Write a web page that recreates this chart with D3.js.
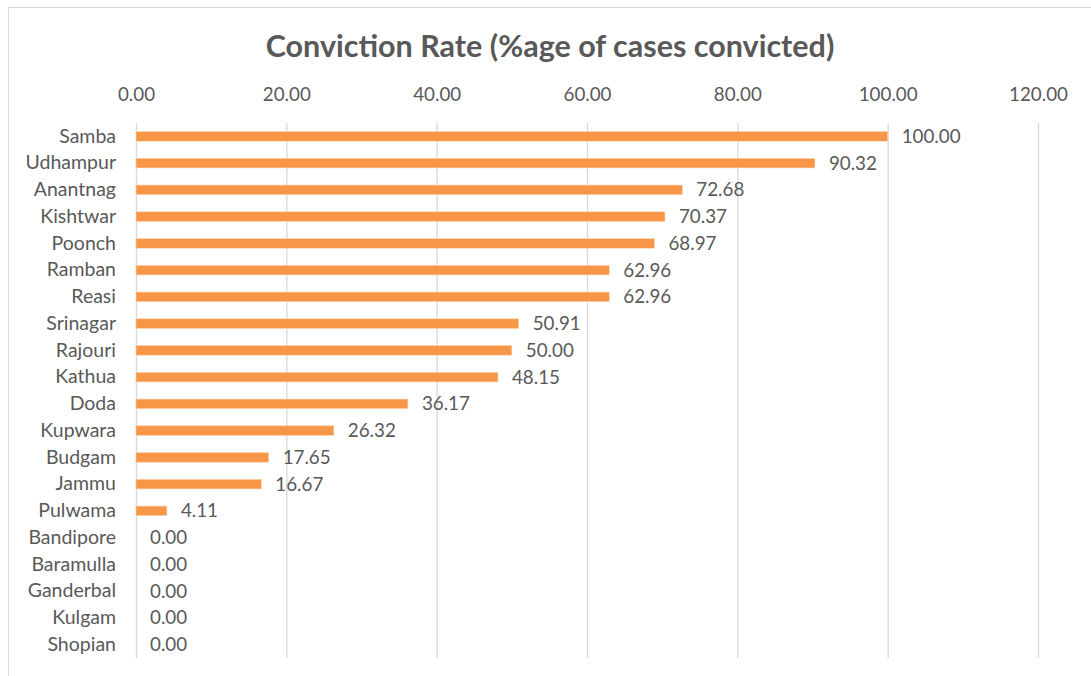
<!DOCTYPE html>
<html>
<head>
<meta charset="utf-8">
<script src="https://cdn.jsdelivr.net/npm/d3@7"></script>
<style>
  html, body { margin: 0; padding: 0; background: #fff; }
  svg { display: block; }
  text { font-family: Lato, "Open Sans", sans-serif; fill: #595959; }
</style>
</head>
<body>
<svg id="chart" width="1091" height="676"></svg>
<script>
const districts = ["Samba", "Udhampur", "Anantnag", "Kishtwar", "Poonch", "Ramban", "Reasi",
  "Srinagar", "Rajouri", "Kathua", "Doda", "Kupwara", "Budgam", "Jammu", "Pulwama",
  "Bandipore", "Baramulla", "Ganderbal", "Kulgam", "Shopian"];
const convictionRate = [100.00, 90.32, 72.68, 70.37, 68.97, 62.96, 62.96, 50.91, 50.00, 48.15,
  36.17, 26.32, 17.65, 16.67, 4.11, 0, 0, 0, 0, 0];
const xTicks = [0, 20, 40, 60, 80, 100, 120];
const chartTitle = "Conviction Rate (%age of cases convicted)";

const svg = d3.select("#chart");
const W = 1091, H = 676;
const plot = { left: 136, right: 1038, top: 123, bottom: 658 };
const labelFont = "18.8px";
const categoryFont = "19.5px";

// outer chart frame
svg.append("rect")
  .attr("x", 8.5).attr("y", 7.5)
  .attr("width", W + 20).attr("height", H + 20)
  .attr("fill", "none").attr("stroke", "#d9d9d9").attr("stroke-width", 1);

const x = d3.scaleLinear().domain([0, 120]).range([plot.left, plot.right]);
const y = d3.scaleBand().domain(districts).range([plot.top, plot.bottom]).paddingInner(0.64).paddingOuter(0.32);

// title
svg.append("text")
  .attr("x", 550).attr("y", 57)
  .attr("text-anchor", "middle")
  .style("font-size", "30.5px").style("font-weight", "bold")
  .text(chartTitle);

// vertical gridlines
svg.append("g").selectAll("line").data(xTicks).join("line")
  .attr("x1", d => x(d) + 0.5).attr("x2", d => x(d) + 0.5)
  .attr("y1", plot.top).attr("y2", plot.bottom)
  .attr("stroke", "#d9d9d9").attr("stroke-width", 1.3);

// top value axis (labels only)
const xAxis = svg.append("g")
  .attr("transform", `translate(0,${plot.top - 19})`)
  .call(d3.axisTop(x).tickValues(xTicks).tickFormat(d3.format(".2f")).tickSize(0));
xAxis.select(".domain").remove();
xAxis.selectAll("text").style("font-size", labelFont).style("fill", "#595959")
  .style("font-family", "Lato, 'Open Sans', sans-serif");

// category axis (labels only)
const yAxis = svg.append("g")
  .attr("transform", `translate(${plot.left - 20},0)`)
  .call(d3.axisLeft(y).tickSize(0).tickPadding(0));
yAxis.select(".domain").remove();
yAxis.selectAll("text").style("font-size", categoryFont).style("fill", "#595959")
  .style("font-family", "Lato, 'Open Sans', sans-serif");

const rows = districts.map((d, i) => ({ name: d, value: convictionRate[i] }));

// bars
svg.append("g").selectAll("rect").data(rows).join("rect")
  .attr("x", x(0))
  .attr("y", d => y(d.name))
  .attr("width", d => x(d.value) - x(0))
  .attr("height", y.bandwidth())
  .attr("fill", "#f79646")
  .attr("stroke", d => d.value > 0 ? "#fbd3b3" : "none")
  .attr("stroke-width", 0.6);

// value labels
svg.append("g").selectAll("text").data(rows).join("text")
  .attr("x", d => x(d.value) + 14)
  .attr("y", d => y(d.name) + y.bandwidth() / 2)
  .attr("dy", "0.35em")
  .style("font-size", labelFont)
  .text(d => d3.format(".2f")(d.value));
</script>
</body>
</html>
